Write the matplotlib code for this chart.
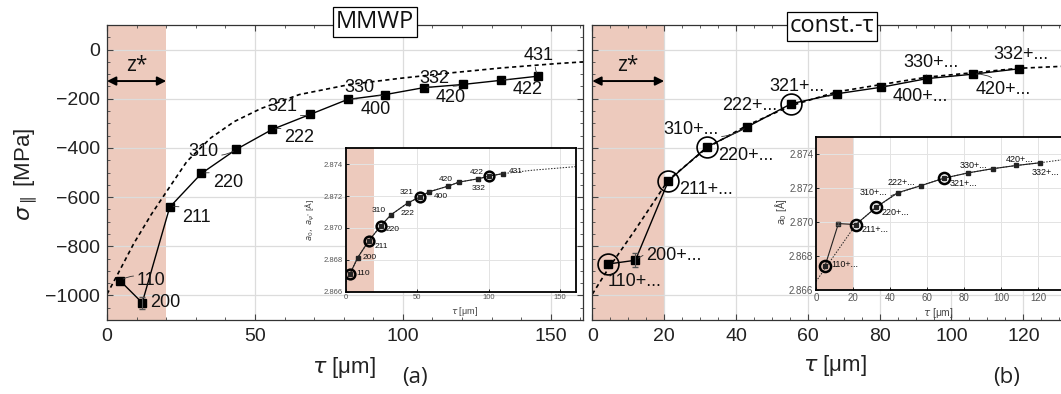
import matplotlib.pyplot as plt
from matplotlib.ticker import MultipleLocator, FormatStrFormatter

# ---- (a) MMWP, main panel: residual stress vs information depth
hkl_a = ["110", "200", "211", "220", "310", "222", "321", "400", "330", "420", "332", "422", "431"]
tau_a = [4.4, 11.9, 21.2, 31.9, 43.7, 55.8, 68.6, 81.3, 94.1, 107.0, 120.2, 133.2, 145.8]
sigma_a = [-940, -1030, -641, -504, -406, -325, -264, -203, -183, -155, -142, -125, -108]
sigma_err_a = [0, 25, 0, 0, 0, 0, 0, 0, 0, 0, 0, 0, 0]
fit_tau_a = [0, 4, 9, 15, 20, 27, 35, 43, 52, 65, 82, 99, 116, 133, 152, 161]
fit_sigma_a = [-995, -905, -790, -670, -580, -455, -360, -293, -240, -183, -142, -117, -95, -75, -57, -50]

# ---- (a) inset: lattice parameter
tau_ai = [3.0, 8.4, 16.0, 24.7, 31.7, 43.4, 52.0, 58.3, 71.4, 79.3, 92.8, 100.5, 109.9]
a_ai = [2.86712, 2.86814, 2.86918, 2.87015, 2.87083, 2.87157, 2.87195, 2.87227,
        2.87262, 2.87288, 2.87309, 2.87326, 2.87341]
ring_ai = ["110", "211", "220", "321", "422"]
fit_tau_ai = [0, 3, 8.4, 16, 24.7, 31.7, 43.4, 52, 58.3, 71.4, 79.3, 92.8, 100.5, 109.9, 130, 161]
fit_a_ai = [2.8666, 2.86712, 2.86814, 2.86918, 2.87015, 2.87083, 2.87157, 2.87195, 2.87227,
            2.87262, 2.87288, 2.87309, 2.87326, 2.87341, 2.87362, 2.87385]

# ---- (b) const.-tau, main panel
hkl_b = ["110+...", "200+...", "211+...", "220+...", "310+...", "222+...",
         "321+...", "400+...", "330+...", "420+...", "332+..."]
tau_b = [4.5, 12.0, 21.2, 31.9, 43.1, 55.4, 68.0, 80.5, 93.2, 106.0, 118.9]
sigma_b = [-872, -857, -534, -396, -315, -220, -180, -153, -118, -100, -78]
sigma_err_b = [0, 28, 0, 0, 0, 0, 0, 0, 0, 0, 0]
ring_b = ["110+...", "211+...", "220+...", "222+..."]
fit_tau_b = [0, 4.5, 12, 21.2, 31.9, 43.1, 55.4, 68, 80.5, 93.2, 106, 118.9, 140]
fit_sigma_b = [-995, -890, -732, -530, -400, -308, -228, -172, -142, -112, -94, -76, -62]

# ---- (b) inset
tau_bi = [4.9, 12.1, 21.5, 32.6, 44.0, 56.6, 69.2, 82.3, 95.3, 108.1, 121.0]
a_bi = [2.86742, 2.8699, 2.86984, 2.87087, 2.87171, 2.87212, 2.87257, 2.87288,
        2.87312, 2.87331, 2.87347]
a_err_bi = [0, 0.0001, 0, 0, 0, 0, 0, 0, 0, 0, 0]
ring_bi = ["110+...", "211+...", "220+...", "321+..."]
fit_tau_bi = [0, 21.5, 32.6, 44, 56.6, 69.2, 82.3, 95.3, 108.1, 121, 140]
fit_a_bi = [2.8665, 2.86984, 2.87087, 2.87168, 2.87214, 2.87257, 2.87288, 2.87312,
            2.87331, 2.87347, 2.87375]

# label placement: (dx, dy) in image pixels (y down), alignment, leader line
lab_a = [(17, 0, 'left', True), (8, 0, 'left', False), (12.7, 10, 'left', True),
         (11.3, 9, 'left', True), (-18, 1.7, 'right', True), (12.3, 8.3, 'left', True),
         (-13, -8, 'right', True), (13, 10, 'left', True), (-11, -7, 'right', True),
         (11.7, 10, 'left', True), (-13, -6, 'right', True), (12, 9, 'left', True),
         (0, -21, 'center', True)]
lab_ai = [(6, 0, 'left', False), (5, 0, 'left', False), (5.6, 5, 'left', False),
          (5, 4.3, 'left', False), (-5, -4, 'right', True), (0, 10.7, 'center', True),
          (-6.7, -4, 'right', False), (5, 4.4, 'left', True), None,
          (-6, -2.7, 'right', True), (0, 10, 'center', True), (-5.3, -3.4, 'right', False),
          (5.6, -2.6, 'left', True)]
lab_b = [(-1, 18, 'left', False), (11, -4.7, 'left', True), (11, 9, 'left', False),
         (11, 9, 'left', False), (-29, 2.3, 'right', True), (-14, 2, 'right', False),
         (-12, -7, 'right', True), (10.7, 9, 'left', True), (3.7, -15.7, 'center', True),
         (3, 15, 'left', True), (2, -14, 'center', False)]
lab_bi = [(6.7, -1.7, 'left', False), None, (6, 5, 'left', False), (5.4, 5, 'left', False),
          (-10, 0, 'right', True), (-5.7, -3, 'right', True), (5.3, 5, 'left', False), None,
          (-5.6, -3.3, 'right', True), (3, -5.7, 'center', False), (5, 10, 'center', False)]

plt.rcParams['font.family'] = ['Liberation Sans', 'DejaVu Sans']
plt.rcParams['mathtext.fontset'] = 'dejavusans'

W, H = 1061, 394
fig = plt.figure(figsize=(W / 100, H / 100), dpi=100)
SHADE = '#edcabd'


def px_axes(left, top, right, bottom):
    return fig.add_axes([left / W, 1 - bottom / H, (right - left) / W, (bottom - top) / H])


def label_points(ax, xs, ys, names, layout, size):
    for x, y, name, lay in zip(xs, ys, names, layout):
        if lay is None:
            continue
        dx, dy, ha, lead = lay
        props = None
        if lead:
            props = dict(arrowstyle='-', lw=0.6, color='#333333',
                         connectionstyle='arc3,rad=0.3', shrinkA=0.5, shrinkB=2.5)
        ax.annotate(name, (x, y), xytext=(dx, -dy), textcoords='offset pixels',
                    ha=ha, va='center', fontsize=size, color='#111111',
                    arrowprops=props, zorder=6)


def style_main(ax, xmajor, xminor):
    ax.set_ylim(-1100, 100)
    ax.xaxis.set_major_locator(MultipleLocator(xmajor))
    ax.xaxis.set_minor_locator(MultipleLocator(xminor))
    ax.yaxis.set_major_locator(MultipleLocator(200))
    ax.yaxis.set_minor_locator(MultipleLocator(50))
    ax.tick_params(which='both', direction='in', top=True, right=True,
                   labelsize=14, labelcolor='#222222', color='#444444')
    ax.tick_params(which='major', length=4, width=0.8)
    ax.tick_params(which='minor', length=2.5, width=0.6)
    ax.tick_params(axis='y', pad=5)
    ax.tick_params(axis='x', pad=6)
    ax.grid(True, which='major', color='#dcdcdc', lw=0.9)
    ax.set_axisbelow(True)
    ax.axvspan(0, 20, color=SHADE, lw=0, zorder=0)
    for s in ax.spines.values():
        s.set_color('#333333')
        s.set_linewidth(0.9)
    ax.annotate('', xy=(0, -128), xytext=(20, -128),
                arrowprops=dict(arrowstyle='<|-|>', color='black', lw=1.4,
                                shrinkA=0, shrinkB=0, mutation_scale=13))
    ax.text(10, -88, 'z*', ha='center', va='baseline', fontsize=15,
            family='Open Sans', color='#111111')


def style_inset(ax, xmajor, size):
    ax.set_ylim(2.866, 2.875)
    ax.xaxis.set_major_locator(MultipleLocator(xmajor))
    ax.yaxis.set_major_locator(MultipleLocator(0.002))
    ax.yaxis.set_major_formatter(FormatStrFormatter('%.3f'))
    ax.tick_params(which='both', direction='in', length=2, width=0.6,
                   labelsize=size, labelcolor='#555555', pad=2)
    ax.grid(True, color='#e3e3e3', lw=0.7)
    ax.set_axisbelow(True)
    ax.axvspan(0, 20, color=SHADE, lw=0, zorder=0)
    for s in ax.spines.values():
        s.set_color('black')
        s.set_linewidth(1.3)


# ---------------- panel (a)
ax1 = px_axes(107, 25, 583.3, 320)
ax1.set_xlim(0, 161)
style_main(ax1, 50, 10)
ax1.plot(fit_tau_a, fit_sigma_a, color='black', lw=1.2, ls=(0, (2.5, 2)), zorder=2)
ax1.plot(tau_a, sigma_a, color='black', lw=1.0, marker='s', ms=5.5, zorder=3)
for x, y, e in zip(tau_a, sigma_a, sigma_err_a):
    if e:
        ax1.errorbar(x, y, yerr=e, fmt='none', ecolor='#555555', capsize=2, lw=0.8, zorder=4)
label_points(ax1, tau_a, sigma_a, hkl_a, lab_a, 13)

ins1 = px_axes(345.7, 148.3, 576, 291.7)
ins1.set_xlim(0, 161)
style_inset(ins1, 50, 5.5)
ins1.plot(fit_tau_ai, fit_a_ai, color='#222222', lw=0.7, ls=(0, (1.5, 1.5)), zorder=2)
ins1.plot(tau_ai, a_ai, color='#222222', lw=0.8, marker='s', ms=2.2, zorder=3)
for x, y, name in zip(tau_ai, a_ai, hkl_a):
    if name in ring_ai:
        ins1.plot(x, y, marker='o', ms=7, mfc='none', mec='black', mew=1.8, zorder=4)
label_points(ins1, tau_ai, a_ai, hkl_a, lab_ai, 6)

# ---------------- panel (b)  (right part cropped at the figure edge)
xmax_b = 134
ax2 = px_axes(592.3, 25, 592.3 + xmax_b * 3.592, 320)
ax2.set_xlim(0, xmax_b)
style_main(ax2, 20, 5)
ax2.tick_params(labelleft=False)
ax2.plot(fit_tau_b, fit_sigma_b, color='black', lw=1.2, ls=(0, (2.5, 2)), zorder=2)
ax2.plot(tau_b, sigma_b, color='black', lw=1.0, marker='s', ms=5.5, zorder=3)
for x, y, e in zip(tau_b, sigma_b, sigma_err_b):
    if e:
        ax2.errorbar(x, y, yerr=e, fmt='none', ecolor='#555555', capsize=2, lw=0.8, zorder=4)
for x, y, name in zip(tau_b, sigma_b, hkl_b):
    if name in ring_b:
        ax2.plot(x, y, marker='o', ms=15, mfc='none', mec='black', mew=1.2, zorder=4)
label_points(ax2, tau_b, sigma_b, hkl_b, lab_b, 13)

ins2 = px_axes(816, 136.7, 816 + xmax_b * 1.8525, 290)
ins2.set_xlim(0, xmax_b)
style_inset(ins2, 20, 7)
ins2.plot(fit_tau_bi, fit_a_bi, color='#222222', lw=0.7, ls=(0, (1.5, 1.5)), zorder=2)
ins2.plot(tau_bi, a_bi, color='#222222', lw=0.8, marker='s', ms=2.5, zorder=3)
for x, y, e in zip(tau_bi, a_bi, a_err_bi):
    if e:
        ins2.errorbar(x, y, yerr=e, fmt='none', ecolor='#555555', capsize=1.2, lw=0.6, zorder=4)
for x, y, name in zip(tau_bi, a_bi, hkl_b):
    if name in ring_bi:
        ins2.plot(x, y, marker='o', ms=8, mfc='none', mec='black', mew=1.8, zorder=4)
label_points(ins2, tau_bi, a_bi, hkl_b, lab_bi, 6.5)

# ---------------- labels
fig.text(26 / W, 1 - 174.5 / H, r'$\sigma_{\parallel}$ [MPa]', rotation=90,
         ha='center', va='center', fontsize=16, color='#222222')
fig.text(344 / W, 1 - 367 / H, r'$\tau$ [μm]', ha='center', va='center',
         fontsize=16, color='#222222')
fig.text(835 / W, 1 - 365 / H, r'$\tau$ [μm]', ha='center', va='center',
         fontsize=16, color='#222222')
fig.text(465 / W, 1 - 311.7 / H, r'$\tau$ [μm]', ha='center', va='center',
         fontsize=6.5, color='#444444')
fig.text(938 / W, 1 - 312.7 / H, r'$\tau$ [μm]', ha='center', va='center',
         fontsize=7.5, color='#444444')
fig.text(310.5 / W, 1 - 220 / H, r'$a_0,\ a_{\psi^{*}}$ [Å]', rotation=90,
         ha='center', va='center', fontsize=6, color='#444444')
fig.text(781 / W, 1 - 211.5 / H, r'$a_0$ [Å]', rotation=90,
         ha='center', va='center', fontsize=7, color='#444444')

box = dict(boxstyle='square,pad=0.12', fc='white', ec='black', lw=0.9)
fig.text(375 / W, 1 - 22 / H, 'MMWP', ha='center', va='center', fontsize=17,
         family='Open Sans', color='#111111', bbox=box)
fig.text(832 / W, 1 - 26.5 / H, 'const.-τ', ha='center', va='center', fontsize=17,
         family='Open Sans', color='#111111', bbox=box)
fig.text(415 / W, 1 - 378 / H, '(a)', ha='center', va='center', fontsize=16,
         family='Open Sans', color='#222222')
fig.text(1007 / W, 1 - 378 / H, '(b)', ha='center', va='center', fontsize=16,
         family='Open Sans', color='#222222')

fig.savefig('out.png', dpi=100)
